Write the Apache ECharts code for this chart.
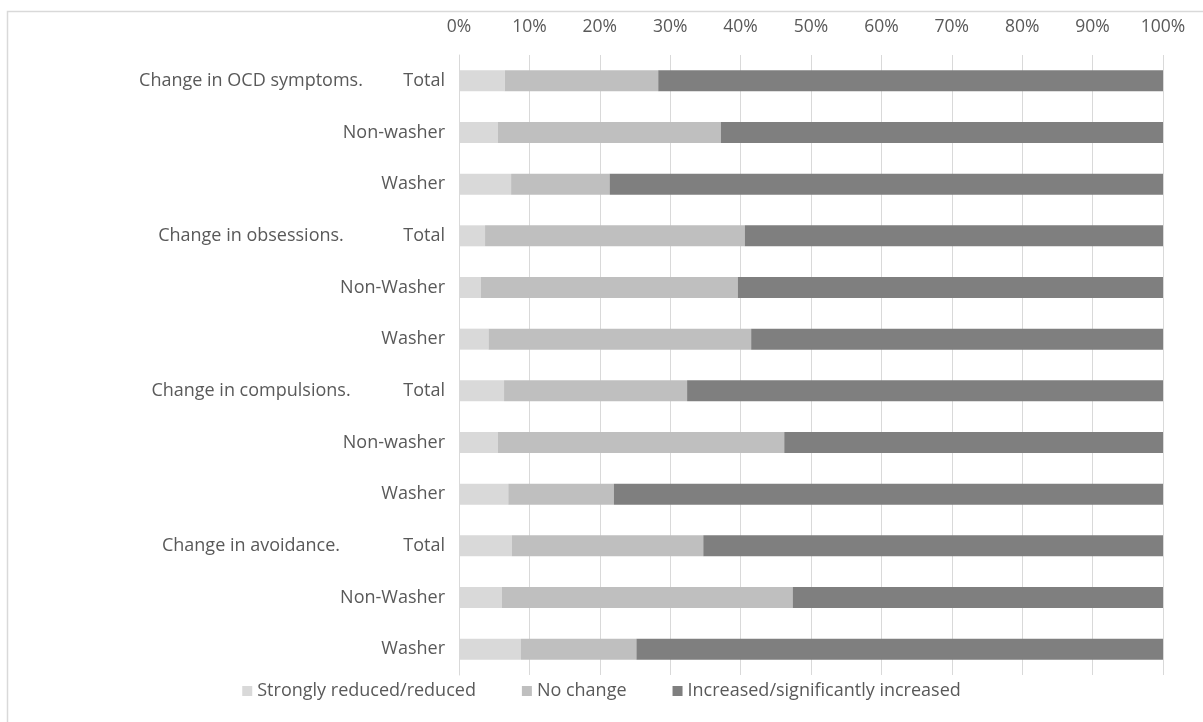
<!DOCTYPE html>
<html>
<head>
<meta charset="utf-8">
<script src="https://cdn.jsdelivr.net/npm/echarts@6/dist/echarts.min.js"></script>
<style>
  html, body { margin: 0; padding: 0; background: #ffffff; }
  #chart { width: 1203px; height: 722px; }
</style>
</head>
<body>
<div id="chart"></div>
<script>
// Sub-group labels, one per bar (top to bottom)
const subgroups = ['Total', 'Non-washer', 'Washer',
                   'Total', 'Non-Washer', 'Washer',
                   'Total', 'Non-washer', 'Washer',
                   'Total', 'Non-Washer', 'Washer'];

// Outcome group shown beside the first bar of each block
const groups = ['Change in OCD symptoms.', '', '',
                'Change in obsessions.', '', '',
                'Change in compulsions.', '', '',
                'Change in avoidance.', '', ''];

// Share of respondents (%) in each response class
const reduced   = [6.5, 5.5, 7.4, 3.7, 3.1, 4.2, 6.4, 5.5, 7.0, 7.5, 6.1, 8.8];
const noChange  = [21.8, 31.7, 14.0, 36.9, 36.5, 37.3, 26.0, 40.7, 15.0, 27.2, 41.3, 16.4];
const increased = [71.7, 62.8, 78.6, 59.4, 60.4, 58.5, 67.6, 53.8, 78.0, 65.3, 52.6, 74.8];

const seriesNames = ['Strongly reduced/reduced', 'No change', 'Increased/significantly increased'];
const seriesColors = ['#d9d9d9', '#bfbfbf', '#7f7f7f'];

const FONT = '"Open Sans", "Liberation Sans", sans-serif';
const TEXT = '#595959';

const chart = echarts.init(document.getElementById('chart'), null, { renderer: 'canvas' });

const makeSeries = (name, data, color) => ({
  name: name,
  type: 'bar',
  stack: 'share',
  yAxisIndex: 0,
  barWidth: 21,
  data: data,
  itemStyle: { color: color },
  emphasis: { disabled: true }
});

chart.setOption({
  animation: false,
  backgroundColor: '#ffffff',
  textStyle: { fontFamily: FONT },
  graphic: [{
    type: 'rect',
    shape: { x: 7.5, y: 11.5, width: 1300, height: 800 },
    style: { fill: 'none', stroke: '#d9d9d9', lineWidth: 1.5 },
    silent: true, z: -10
  }],
  grid: { left: 459, right: 40, top: 55, bottom: 47 },
  legend: {
    bottom: 17,
    left: 'center',
    icon: 'rect',
    itemWidth: 10,
    itemHeight: 10,
    itemGap: 46,
    textStyle: { color: TEXT, fontSize: 18, fontFamily: FONT },
    data: seriesNames
  },
  xAxis: {
    type: 'value',
    position: 'top',
    min: 0,
    max: 100,
    interval: 10,
    axisLine: { show: false },
    axisTick: { show: false },
    axisLabel: { formatter: '{value}%', color: TEXT, fontSize: 17.5, fontFamily: FONT, margin: 19 },
    splitLine: { show: true, lineStyle: { color: '#d9d9d9', width: 1 } }
  },
  yAxis: [{
    type: 'category',
    inverse: true,
    data: subgroups,
    axisLine: { show: true, lineStyle: { color: '#d9d9d9' } },
    axisTick: { show: false },
    axisLabel: { color: TEXT, fontSize: 18, fontFamily: FONT, margin: 14 }
  }, {
    type: 'category',
    inverse: true,
    position: 'left',
    data: groups,
    axisLine: { show: false },
    axisTick: { show: false },
    axisLabel: { color: TEXT, fontSize: 18, fontFamily: FONT, margin: 208, align: 'center' }
  }],
  series: [
    makeSeries(seriesNames[0], reduced, seriesColors[0]),
    makeSeries(seriesNames[1], noChange, seriesColors[1]),
    makeSeries(seriesNames[2], increased, seriesColors[2])
  ]
});
</script>
</body>
</html>
